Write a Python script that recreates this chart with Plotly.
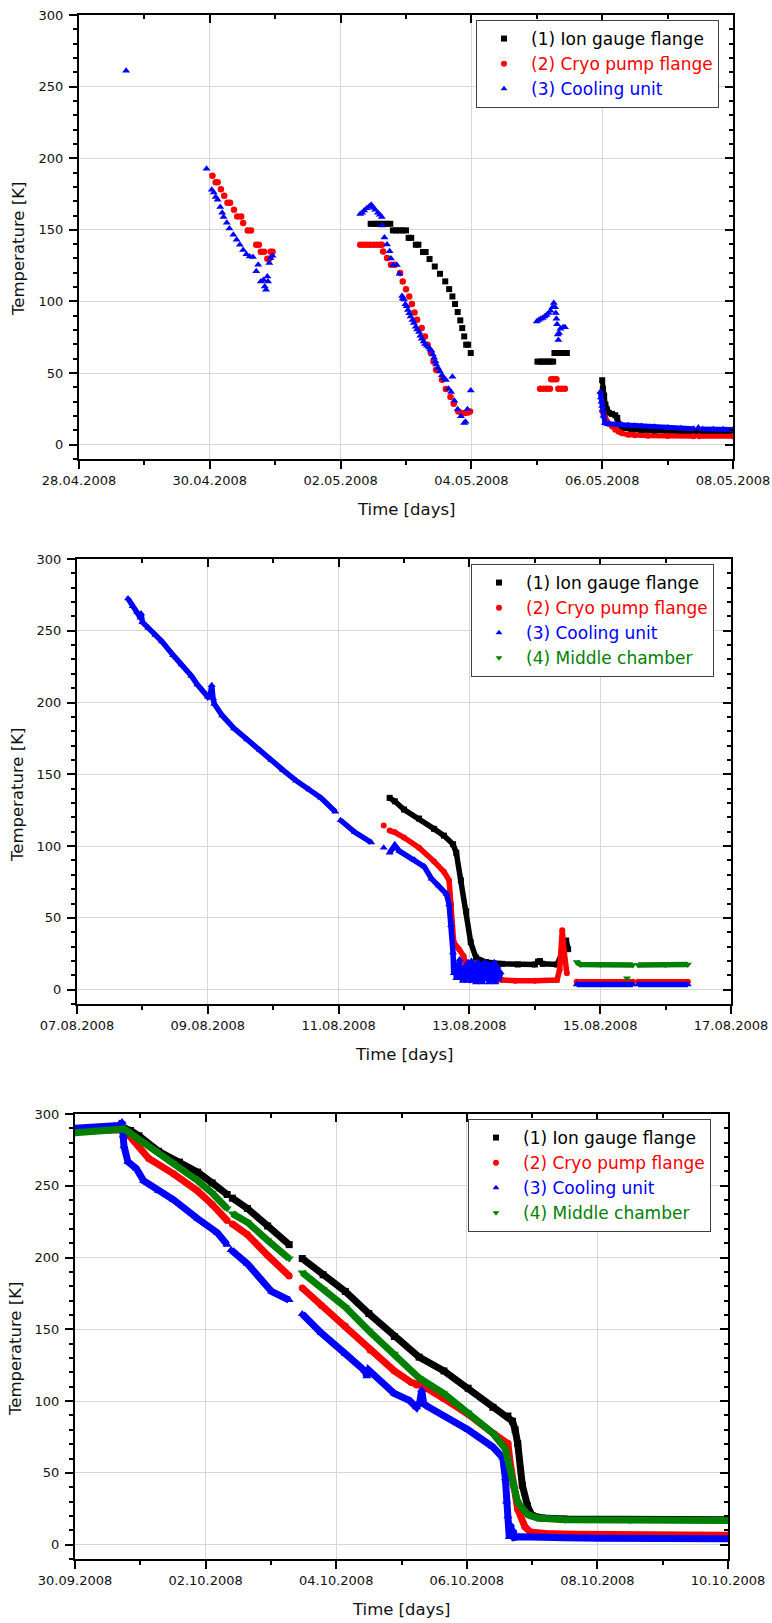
import pandas as pd
import plotly.graph_objects as go

# ---------------- data ----------------
SERIES = ["(1) Ion gauge flange", "(2) Cryo pump flange", "(3) Cooling unit", "(4) Middle chamber"]
COLORS = ["#000000", "#ff0000", "#0000ff", "#008000"]
SYMBOLS = ["square", "circle", "triangle-up", "triangle-down"]

Y_TICKS = [0, 50, 100, 150, 200, 250, 300]
Y_RANGE = [-10, 300]
Y_TITLE = "Temperature [K]"
X_TITLE = "Time [days]"

# ---- panel 1 : 28.04.2008 - 08.05.2008 (days since start) ----
C1_START, C1_END = "2008-04-28", "2008-05-08"
C1_XLABELS = ["28.04.2008", "30.04.2008", "02.05.2008", "04.05.2008", "06.05.2008", "08.05.2008"]

C1_BLACK_PTS_D = [4.46, 4.51, 4.56, 4.61, 4.66, 4.71, 4.76,
                  4.80, 4.85, 4.90, 4.95, 5.00,
                  5.04, 5.08, 5.15, 5.19, 5.26, 5.30,
                  5.36, 5.44, 5.52, 5.60, 5.66, 5.71, 5.75, 5.79, 5.83, 5.86, 5.89, 5.92, 5.95, 5.99,
                  7.01, 7.05, 7.09, 7.13, 7.17, 7.21, 7.25,
                  7.27, 7.31, 7.35, 7.39, 7.43, 7.46]
C1_BLACK_PTS_T = [154.2, 154.2, 154.2, 154.2, 154.2, 154.2, 154.2,
                  149.6, 149.6, 149.6, 149.6, 149.6,
                  144.4, 144.4, 139.6, 139.6, 134.5, 134.5,
                  129.6, 124.4, 119.3, 114.0, 108.6, 103.5, 98.2, 92.6, 86.8, 81.4, 75.6, 69.8, 69.8, 64.0,
                  58.0, 58.0, 58.0, 58.0, 58.0, 58.0, 58.0,
                  64.0, 64.0, 64.0, 64.0, 64.0, 64.0]
C1_BLACK_BAND_D = [8.00, 8.01, 8.03, 8.05, 8.07, 8.10, 8.15, 8.20, 8.23, 8.26, 8.30, 8.35, 8.45, 8.60,
                   8.80, 9.00, 9.20, 9.40, None, 9.48, 9.70, 10.00]
C1_BLACK_BAND_T = [45, 39, 34.3, 28, 24.7, 22.3, 21.5, 20.5, 18.7, 14, 12.5, 11.5, 10.5, 10,
                   9.6, 9.4, 9.2, 9.1, None, 9.1, 9.0, 9.0]

C1_RED_PTS_D = [2.04, 2.09, 2.12, 2.17, 2.22, 2.27, 2.31, 2.37, 2.42, 2.48, 2.51, 2.58, 2.63, 2.71, 2.75,
                2.78, 2.83, 2.88, 2.91, 2.93, 2.96,
                4.30, 4.35, 4.40, 4.45, 4.50, 4.55, 4.60, 4.63,
                4.65, 4.71, 4.77, 4.83, 4.91, 4.95, 5.00, 5.05, 5.09, 5.13, 5.17, 5.24, 5.29, 5.33, 5.38,
                5.42, 5.46, 5.55, 5.61, 5.68, 5.73, 5.80, 5.85, 5.90, 5.95, 5.98,
                7.05, 7.10, 7.15, 7.20, 7.22, 7.26, 7.30, 7.33, 7.38, 7.43]
C1_RED_PTS_T = [187.7, 183.3, 183.3, 178.4, 173.8, 169.0, 169.0, 164.0, 159.3, 159.3, 154.7, 149.5, 149.5, 139.6, 139.6,
                134.7, 134.7, 129.8, 129.8, 134.7, 134.7,
                139.6, 139.6, 139.6, 139.6, 139.6, 139.6, 139.6, 139.6,
                134.9, 130.3, 125.6, 125.6, 119.8, 114.0, 108.6, 103.5, 98.2, 92.3, 87.2, 81.4, 75.6, 69.8, 64.0,
                58.1, 52.3, 45.4, 38.9, 33.3, 28.6, 23.2, 22.1, 22.1, 22.5, 23.2,
                39.0, 39.0, 39.0, 39.0, 45.6, 45.6, 45.6, 39.0, 39.0, 39.0]
C1_RED_BAND_D = [8.00, 8.02, 8.05, 8.08, 8.10, 8.15, 8.20, 8.25, 8.30, 8.40, 8.50, 8.70, 9.00, 9.40,
                 None, 9.48, 10.00]
C1_RED_BAND_T = [23.5, 21, 18.7, 16, 14.5, 12.7, 10.5, 9, 7.9, 7, 6.5, 6.2, 6, 5.8,
                 None, 5.8, 5.8]

C1_BLUE_PTS_D = [0.72,
                 1.95, 2.03, 2.06, 2.09, 2.12, 2.16, 2.19, 2.21, 2.26, 2.30, 2.36, 2.41, 2.46, 2.51, 2.56,
                 2.61, 2.66, 2.71, 2.74, 2.78, 2.82, 2.84, 2.86, 2.88, 2.89, 2.91, 2.93, 2.96,
                 4.30, 4.33, 4.36, 4.40, 4.44, 4.47, 4.50, 4.53, 4.57, 4.60, 4.63,
                 4.63, 4.67, 4.71, 4.75, 4.77, 4.80, 4.86, 4.90, 4.94, 4.95, 4.97, 4.99, 5.01, 5.03, 5.05,
                 5.07, 5.10, 5.12, 5.15, 5.17, 5.20, 5.22, 5.24, 5.27, 5.29, 5.32, 5.35, 5.37, 5.39, 5.41,
                 5.43, 5.45, 5.46, 5.49, 5.52, 5.55, 5.58, 5.61, 5.65, 5.69, 5.71, 5.74, 5.79, 5.84, 5.89,
                 5.91, 5.94, 5.99,
                 7.00, 7.03, 7.06, 7.09, 7.12, 7.15, 7.18, 7.21, 7.24, 7.26, 7.28, 7.29, 7.30, 7.31, 7.32,
                 7.33, 7.34, 7.36, 7.40, 7.43]
C1_BLUE_PTS_T = [261.0,
                 192.6, 178.0, 176.0, 173.0, 171.0, 166.0, 162.0, 159.0, 155.0, 151.0, 146.5, 143.0, 139.6, 136.0, 133.0,
                 131.4, 131.0, 121.0, 125.6, 114.0, 115.0, 110.5, 108.2, 117.5, 114.0, 126.8, 130.3, 131.9,
                 161.0, 162.0, 163.5, 165.0, 166.5, 167.5, 165.5, 164.0, 162.0, 160.5, 159.0,
                 153.0, 144.6, 139.8, 135.0, 130.0, 125.4, 125.4, 119.4, 103.8, 102.0, 101.4, 98.0, 96.6, 94.0, 91.8,
                 89.5, 87.0, 85.0, 82.3, 80.5, 78.7, 76.0, 73.9, 72.0, 70.3, 69.0, 67.9, 66.5, 65.5, 63.0,
                 60.7, 58.0, 55.9, 53.5, 51.1, 48.5, 46.3, 45.1, 39.0, 36.7, 47.5, 30.7, 24.7, 19.9, 15.1,
                 16.0, 24.7, 37.9,
                 86.0, 87.0, 88.0, 88.5, 89.5, 90.5, 92.0, 93.5, 96.0, 99.0, 96.0, 92.0, 88.0, 84.0, 77.0,
                 73.0, 78.0, 81.0, 82.0, 82.0]
C1_BLUE_BAND_D = [7.97, 7.98, 7.99, 8.00, 8.01, 8.02, 8.04, 8.06, 8.10, 8.20, 8.30, 8.40, 8.50, 8.60,
                  8.80, 9.00, 9.20, 9.40, None, 9.47, None, 9.53, 9.70, 9.85, 10.00]
C1_BLUE_BAND_T = [36.7, 33, 30, 27, 24, 20, 15.2, 14.8, 14.5, 14.2, 13.9, 13.6, 13.3, 13,
                  12.5, 12, 11.5, 11.2, None, 12, None, 11, 10.8, 10.7, 10.6]

# ---- panel 2 : 07.08.2008 - 17.08.2008 ----
C2_START, C2_END = "2008-08-07", "2008-08-17"
C2_XLABELS = ["07.08.2008", "09.08.2008", "11.08.2008", "13.08.2008", "15.08.2008", "17.08.2008"]

C2_BLACK_D = [4.78, 4.86, 5.00, 5.23, 5.46, 5.61, 5.75, 5.80, 5.87, 5.95, 6.02, 6.10, 6.25, 6.50,
              6.74, 7.00, 7.05, 7.08, 7.12, 7.34, 7.42, 7.48, 7.51]
C2_BLACK_T = [133.6, 131.2, 125.5, 119.2, 112, 107.3, 101.3, 95.3, 76.1, 54.6, 33, 22.3, 19.2, 18,
              17.5, 17.5, 19.5, 19.9, 18, 17.5, 25.9, 34.2, 28.2]
C2_RED_D = [4.69, None, 4.78, 4.86, 5.00, 5.23, 5.46, 5.61, 5.69, 5.72, 5.76, 5.84, 5.91, 5.97, 6.02,
            6.10, 6.20, 6.30, 6.40, 6.50, 6.70, 7.00, 7.34, 7.38, 7.42, 7.45, 7.49,
            None, 7.64, 8.50, None, 8.58, 9.34]
C2_RED_T = [114.4, None, 110.8, 109.6, 106, 98.9, 89.3, 82.1, 76.1, 59.4, 33, 28.2, 23.5, 13.9, 6.7,
            8, 9.1, 10.3, 7, 6.7, 6.2, 6.2, 6.7, 13.9, 41.4, 25.9, 11.5,
            None, 5.5, 5.5, None, 5.5, 5.5]
C2_BLUE_D = [0.78, 0.85, 0.92, 0.97, 0.98, 1.00, 1.09, 1.20, 1.30, 1.47, 1.60, 1.75, 1.84, 2.00, 2.04,
             2.06, 2.08, 2.10, 2.22, 2.40, 2.60, 2.80, 2.97, 3.15, 3.35, 3.55, 3.73, 3.95,
             None, 4.03, 4.25, 4.50, None, 4.69, None,
             4.78, 4.86, 4.93, 5.16, 5.31, 5.42, 5.53, 5.65, 5.69, 5.72, 5.75, 5.76, 5.78, 5.80, 5.83,
             5.85, 5.87, 5.90, 5.93, 5.96, 5.98, 6.00, 6.03, 6.05, 6.08, 6.10, 6.13, 6.15, 6.18, 6.20,
             6.23, 6.25, 6.28, 6.30, 6.33, 6.35, 6.38, 6.40, 6.43, 6.45, 6.48,
             None, 7.64, 8.50, None, 8.58, 9.34]
C2_BLUE_T = [272.4, 267, 263, 259, 262, 256, 252, 247, 242.5, 233, 226.5, 218.5, 212.6, 204, 206,
             212, 203, 199, 191, 182, 174.3, 167, 160, 153, 145.6, 139.5, 133.6, 124,
             None, 118, 109.6, 102.5, None, 98.9, None,
             95.3, 100.5, 96.5, 90.5, 85.7, 77.3, 72.5, 66.6, 59.4, 45, 25.9, 11.5, 18, 8, 12,
             21, 9, 6, 16, 6, 19, 7, 20, 6, 18, 5, 19, 6, 17, 5,
             19, 7, 18, 5, 17, 6, 19, 5, 16, 7, 12,
             None, 3.6, 3.6, None, 3.6, 3.6]
C2_GREEN_D = [7.64, 7.70, 8.00, 8.50, None, 8.58, 9.00, 9.34, None, 8.41]
C2_GREEN_T = [19.2, 17.5, 17.3, 17.2, None, 17.2, 17.3, 17.5, None, 7.9]

# ---- panel 3 : 30.09.2008 - 10.10.2008 ----
C3_START, C3_END = "2008-09-30", "2008-10-10"
C3_XLABELS = ["30.09.2008", "02.10.2008", "04.10.2008", "06.10.2008", "08.10.2008", "10.10.2008"]

C3_BLACK_D = [0.00, 0.40, 0.75, 0.85, 0.98, 1.28, 1.60, 1.88, 2.10, 2.33, None, 2.41, 2.64, 2.95, 3.28,
              None, 3.48, 3.80, 4.14, 4.50, 4.89, 5.27, 5.65, 6.02, 6.40, 6.63, 6.70, 6.74, 6.78, 6.85,
              6.93, 7.00, 7.15, 7.50, 8.50, 10.00]
C3_BLACK_T = [288, 289, 290, 288.5, 284.8, 274, 266.5, 259.5, 252, 243.9, None, 241.4, 234.2, 222, 209,
              None, 199.3, 188, 176.4, 161, 145, 130.6, 121, 109, 95.7, 89.6, 86, 80, 70.4, 41.4,
              27, 20.2, 18.6, 17.8, 17.5, 17.3]
C3_RED_D = [0.00, 0.40, 0.75, 0.83, 1.13, 1.51, 1.88, 2.10, 2.33, None, 2.41, 2.64, 2.95, 3.28, None,
            3.48, 3.77, 4.14, 4.52, 4.89, 5.15, 5.23, 5.35, 5.65, 6.02, 6.40, 6.63, 6.66, 6.72, 6.78,
            6.89, 6.97, 7.20, 7.60, 10.00]
C3_RED_T = [288, 288.5, 289, 284.8, 269, 258.3, 246.3, 237, 225.8, None, 223.4, 216, 201.5, 187.2, None,
            178.8, 166.7, 152.3, 135.4, 121, 113, 111.3, 110, 101.7, 90.8, 77.6, 70.4, 58.3, 40, 24.6,
            12.5, 8.9, 7.7, 7.2, 6.5]
C3_BLUE_D = [0.00, 0.30, 0.60, 0.68, 0.72, 0.74, 0.75, 0.81, 0.94, 1.05, 1.28, 1.51, 1.88, 2.18, 2.33,
             None, 2.39, 2.64, 3.01, 3.28, None, 3.48, 3.77, 4.14, 4.44, 4.47, 4.50, 4.89, 5.12, 5.23,
             5.28, 5.31, 5.34, 5.42, 6.02, 6.40, 6.55, 6.59, 6.61, 6.63, 6.65, 6.67, 6.69, 6.71, 6.73,
             6.80, 7.00, 7.50, 8.00, 9.00, 10.00]
C3_BLUE_T = [290, 290.5, 291.5, 292, 294.5, 285, 277.6, 266.7, 262, 253.5, 246.3, 240.2, 227, 217.3, 209,
             None, 205.3, 195.7, 176.4, 170.4, None, 160.7, 147.5, 133, 121, 117.3, 121.5, 105.3, 100.5, 95.7,
             99.3, 107.7, 98, 95.7, 80, 68, 60.7, 46.3, 30, 19.8, 5.3, 14, 5.5, 10, 5,
             5.5, 5, 4.8, 4.5, 4.3, 4.1]
C3_GREEN_D = [0.00, 0.40, 0.75, 1.05, 1.51, 1.88, 2.10, 2.33, None, 2.41, 2.64, 2.95, 3.28, None, 3.48,
              3.80, 4.14, 4.50, 4.89, 5.27, 5.65, 6.02, 6.40, 6.59, 6.63, 6.70, 6.78, 6.93, 7.08, 7.50,
              8.50, 10.00]
C3_GREEN_T = [287, 288.5, 289.6, 280, 265.5, 253.5, 245, 234.2, None, 230.6, 224.6, 212, 199.3, None, 189.6,
              178, 165.5, 149, 133, 116.1, 105.3, 92, 77.6, 66.7, 58.3, 41.4, 29.4, 21, 18.6, 17.3,
              17, 16.9]

# ---------------- figure ----------------
FONT = "DejaVu Sans"
W, H = 772, 1623
PANELS = [  # pixel frame of each plot area, legend top-left, y-title centre
    dict(x0=79, x1=733, y0=15, y1=459, leg=(476, 20), ytit=(19, 249)),
    dict(x0=77, x1=731, y0=559, y1=1004, leg=(471, 564), ytit=(17, 795)),
    dict(x0=75, x1=728, y0=1114, y1=1559, leg=(468, 1119), ytit=(15, 1349)),
]


def dates(start, days):
    base = pd.Timestamp(start)
    return [None if d is None else base + pd.Timedelta(days=d) for d in days]


fig = go.Figure()


def add(panel, start, days, temps, k, mode, size, lw=None):
    ax = "" if panel == 0 else str(panel + 1)
    assert len(days) == len(temps), (panel, k, len(days), len(temps))
    tr = dict(x=dates(start, days), y=temps, mode=mode, showlegend=False,
              xaxis="x" + ax, yaxis="y" + ax, hoverinfo="skip", connectgaps=False,
              marker=dict(symbol=SYMBOLS[k], color=COLORS[k], size=size, line=dict(width=0)))
    if lw:
        tr["line"] = dict(color=COLORS[k], width=lw)
    fig.add_trace(go.Scatter(**tr))


# panel 1
add(0, C1_START, C1_BLACK_PTS_D, C1_BLACK_PTS_T, 0, "markers", 6)
add(0, C1_START, C1_BLACK_BAND_D, C1_BLACK_BAND_T, 0, "lines+markers", 6, 5)
add(0, C1_START, C1_RED_PTS_D, C1_RED_PTS_T, 1, "markers", 6.5)
add(0, C1_START, C1_RED_BAND_D, C1_RED_BAND_T, 1, "lines+markers", 6, 5)
add(0, C1_START, C1_BLUE_PTS_D, C1_BLUE_PTS_T, 2, "markers", 7)
add(0, C1_START, C1_BLUE_BAND_D, C1_BLUE_BAND_T, 2, "lines+markers", 7, 5)
# panel 2
add(1, C2_START, C2_BLACK_D, C2_BLACK_T, 0, "lines+markers", 6, 5.5)
add(1, C2_START, C2_RED_D, C2_RED_T, 1, "lines+markers", 6, 5.5)
add(1, C2_START, C2_BLUE_D, C2_BLUE_T, 2, "lines+markers", 7, 5.5)
add(1, C2_START, C2_GREEN_D, C2_GREEN_T, 3, "lines+markers", 7, 5.5)
# panel 3
add(2, C3_START, C3_BLACK_D, C3_BLACK_T, 0, "lines+markers", 7, 7)
add(2, C3_START, C3_RED_D, C3_RED_T, 1, "lines+markers", 7, 7)
add(2, C3_START, C3_BLUE_D, C3_BLUE_T, 2, "lines+markers", 8, 7)
add(2, C3_START, C3_GREEN_D, C3_GREEN_T, 3, "lines+markers", 8, 7)

# legend entries
LEG_COUNT = [3, 4, 4]
for p, n in enumerate(LEG_COUNT):
    ax = "" if p == 0 else str(p + 1)
    for k in range(n):
        fig.add_trace(go.Scatter(
            x=[None], y=[None], mode="markers", xaxis="x" + ax, yaxis="y" + ax,
            name=f"<span style='color:{COLORS[k]}'>{SERIES[k]}</span>",
            legend="legend" if p == 0 else f"legend{p + 1}",
            marker=dict(symbol=SYMBOLS[k], color=COLORS[k], size=6, line=dict(width=0))))
# dummy traces so the mirrored right-hand / top tick axes are drawn
for p in range(3):
    ax = "" if p == 0 else str(p + 1)
    fig.add_trace(go.Scatter(x=[None], y=[None], xaxis="x" + ax, yaxis=f"y{p + 4}",
                             showlegend=False, hoverinfo="skip"))
    fig.add_trace(go.Scatter(x=[None], y=[None], xaxis=f"x{p + 4}", yaxis="y" + ax,
                             showlegend=False, hoverinfo="skip"))

tickfont = dict(family=FONT, size=13, color="#111111")
layout = dict(width=W, height=H, margin=dict(l=0, r=0, t=0, b=0), autosize=False,
              paper_bgcolor="white", plot_bgcolor="white", hovermode=False,
              font=dict(family=FONT, color="#111111"))
annotations = []
STARTS = [(C1_START, C1_END, C1_XLABELS), (C2_START, C2_END, C2_XLABELS), (C3_START, C3_END, C3_XLABELS)]
for p, P in enumerate(PANELS):
    ax = "" if p == 0 else str(p + 1)
    start, end, labels = STARTS[p]
    xdom = [P["x0"] / W, P["x1"] / W]
    ydom = [1 - P["y1"] / H, 1 - P["y0"] / H]
    xticks = list(pd.to_datetime(labels, format="%d.%m.%Y"))
    layout["xaxis" + ax] = dict(
        domain=xdom, anchor="y" + ax, type="date", range=[start, end],
        tickmode="array", tickvals=xticks, ticktext=labels,
        showline=True, linecolor="black", linewidth=2, mirror=True,
        ticks="outside", ticklen=8, tickwidth=1.5, tickcolor="black",
        showgrid=True, gridcolor="#d6d6d6", gridwidth=1, zeroline=False,
        tickfont=tickfont, automargin=False,
        minor=dict(tickmode="linear", tick0=start, dtick=86400000, ticks="outside",
                   ticklen=4, tickwidth=1.5, tickcolor="black", showgrid=False))
    layout[f"xaxis{p + 4}"] = dict(
        overlaying="x" + ax, anchor="y" + ax, side="top", type="date", range=[start, end],
        tickmode="array", tickvals=xticks, showticklabels=False,
        ticks="inside", ticklen=8, tickwidth=1.5, tickcolor="black",
        showgrid=False, zeroline=False, showline=False,
        minor=dict(tickmode="linear", tick0=start, dtick=86400000, ticks="inside",
                   ticklen=4, tickwidth=1.5, tickcolor="black", showgrid=False))
    layout["yaxis" + ax] = dict(
        domain=ydom, anchor="x" + ax, range=Y_RANGE,
        tickmode="array", tickvals=Y_TICKS, ticktext=[str(v) for v in Y_TICKS],
        showline=True, linecolor="black", linewidth=2, mirror=True,
        ticks="outside", ticklen=8, tickwidth=1.5, tickcolor="black",
        showgrid=True, gridcolor="#d6d6d6", gridwidth=1, zeroline=False,
        tickfont=tickfont, automargin=False, ticklabelstandoff=3,
        minor=dict(tickmode="linear", tick0=0, dtick=10, ticks="outside",
                   ticklen=4, tickwidth=1.5, tickcolor="black", showgrid=False))
    layout[f"yaxis{p + 4}"] = dict(
        overlaying="y" + ax, anchor="x" + ax, side="right", range=Y_RANGE,
        tickmode="array", tickvals=Y_TICKS, showticklabels=False,
        ticks="inside", ticklen=8, tickwidth=1.5, tickcolor="black",
        showgrid=False, zeroline=False, showline=False,
        minor=dict(tickmode="linear", tick0=0, dtick=10, ticks="inside",
                   ticklen=4, tickwidth=1.5, tickcolor="black", showgrid=False))
    lx, ly = P["leg"]
    layout["legend" if p == 0 else f"legend{p + 1}"] = dict(
        x=lx / W, y=1 - ly / H, xanchor="left", yanchor="top", xref="paper", yref="paper",
        bgcolor="white", bordercolor="#404040", borderwidth=1, itemwidth=44, tracegroupgap=0,
        font=dict(family=FONT, size=17, color="black"))
    annotations.append(dict(text=X_TITLE, xref="paper", yref="paper", showarrow=False,
                            x=(P["x0"] + P["x1"]) / 2 / W, y=1 - (P["y1"] + 50) / H,
                            xanchor="center", yanchor="middle",
                            font=dict(family=FONT, size=16.5, color="#111111")))
    tx, ty = P["ytit"]
    annotations.append(dict(text=Y_TITLE, xref="paper", yref="paper", showarrow=False,
                            x=tx / W, y=1 - ty / H, textangle=-90,
                            xanchor="center", yanchor="middle",
                            font=dict(family=FONT, size=16.5, color="#111111")))
layout["annotations"] = annotations
fig.update_layout(**layout)
fig.write_html("out.html", config={"displayModeBar": False},
               post_script="document.documentElement.style.margin='0';"
                           "document.body.style.margin='0';document.body.style.overflow='hidden';")
